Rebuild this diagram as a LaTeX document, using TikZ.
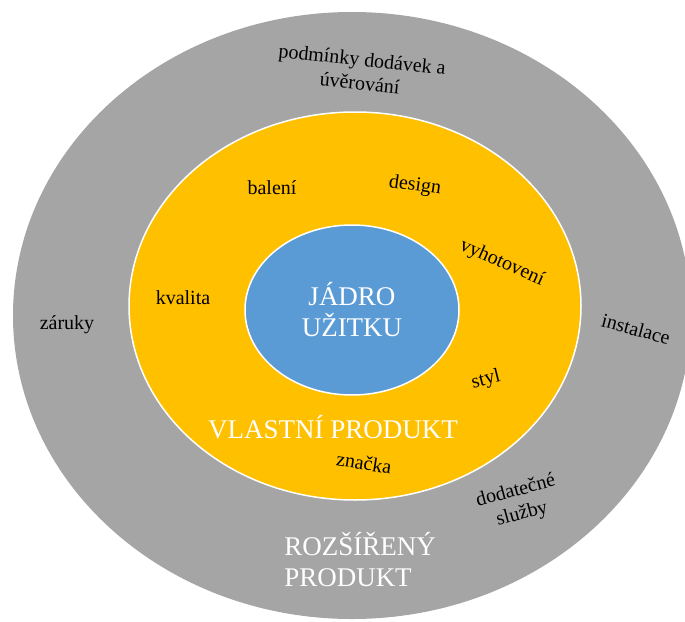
\documentclass[tikz,border=0pt]{standalone}
\usepackage{fontspec}
\setmainfont{Liberation Serif}
\usetikzlibrary{positioning}

\definecolor{ringgray}{HTML}{A5A5A5}
\definecolor{ringgold}{HTML}{FFC000}
\definecolor{coreblue}{HTML}{5B9BD5}

\begin{document}
\begin{tikzpicture}[x=1pt,y=-1pt,
		lbl/.style={font=\fontsize{20}{24}\selectfont, align=center, inner sep=1pt},
		head/.style={font=\fontsize{27}{31}\selectfont, text=white, inner sep=1pt}]
		\useasboundingbox (0,0) rectangle (685,621);
		\fill[ringgray] (352,315.5) ellipse [x radius=339, y radius=303.5];
		\filldraw[ringgold, draw=white, line width=1.5pt] (355,306) ellipse [x radius=226, y radius=194];
		\filldraw[coreblue, draw=white, line width=1.5pt] (352,310) ellipse [x radius=107, y radius=85];
		
		\node[head, align=center] (jadro) at (352,310) {JÁDRO\\UŽITKU};
		\node[head] (vlastni) at (333,427) {VLASTNÍ PRODUKT};
		\node[head, align=left] (rozsireny) at (360,560) {ROZŠÍŘENÝ\\PRODUKT};
		
		\node[lbl] (baleni) at (272,188) {balení};
		\node[lbl, rotate=-8] (design) at (415,186) {design};
		\node[lbl, rotate=-24] (vyhotoveni) at (502,263) {vyhotovení};
		\node[lbl] (kvalita) at (183,298) {kvalita};
		\node[lbl, rotate=14] (styl) at (486,380) {styl};
		\node[lbl, rotate=-9] (znacka) at (364,463) {značka};
		
		\node[lbl, rotate=-6] (podminky) at (361,71) {podmínky dodávek a\\úvěrování};
		\node[lbl] (zaruky) at (67,325) {záruky};
		\node[lbl, rotate=-15] (instalace) at (636,329) {instalace};
		\node[lbl, rotate=15] (sluzby) at (519,503) {dodatečné\\služby};
\end{tikzpicture}
\end{document}
